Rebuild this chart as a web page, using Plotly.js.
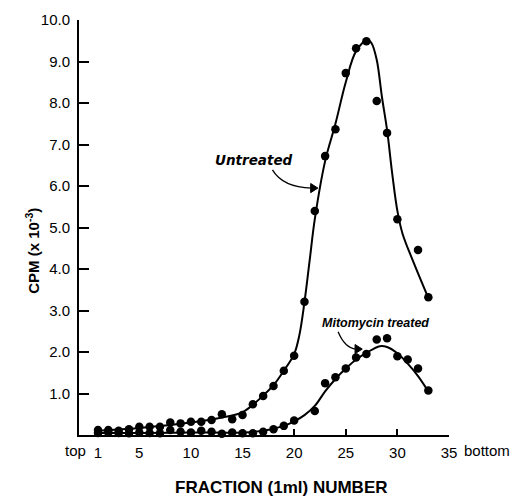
<!DOCTYPE html>
<html>
<head>
<meta charset="utf-8">
<script src="https://cdn.plot.ly/plotly-3.0.1.min.js"></script>
<style>html,body{margin:0;padding:0;background:#fff;}#chart{width:515px;height:497px;}</style>
</head>
<body>
<div id="chart"></div>
<script>
// Measured data points (fraction number, CPM x 10^-3)
const untreatedX = [1,2,3,4,5,6,7,8,9,10,11,12,13,14,15,16,17,18,19,20,21,22,23,24,25,26,27,28,29,30,32,33];
const untreatedY = [0.12,0.12,0.10,0.14,0.20,0.20,0.20,0.30,0.28,0.32,0.32,0.36,0.50,0.38,0.48,0.74,0.94,1.18,1.55,1.91,3.21,5.40,6.72,7.37,8.72,9.32,9.49,8.05,7.28,5.20,4.46,3.32];

const mitoX = [1,2,3,4,5,6,7,8,9,10,11,12,13,14,15,16,17,18,19,20,22,23,24,25,26,27,28,29,30,31,32,33];
const mitoY = [0.05,0.06,0.05,0.04,0.06,0.05,0.04,0.12,0.08,0.06,0.10,0.08,0.03,0.06,0.04,0.04,0.08,0.14,0.22,0.35,0.58,1.25,1.39,1.60,1.87,1.95,2.30,2.33,1.90,1.82,1.60,1.07];

// Hand-drawn fitted curves
const untreatedCurveX = [1,5,10,13,15,17,18,19,20,20.5,21,21.5,22,23,24,25,26,27.1,27.5,28,28.5,29,29.5,30,30.5,31.5,33];
const untreatedCurveY = [0.1,0.17,0.3,0.42,0.55,0.95,1.2,1.55,1.95,2.4,3.2,4.2,5.2,6.6,7.5,8.5,9.25,9.52,9.44,9.04,8.15,7.35,6.3,5.4,4.85,4.2,3.3];

const mitoCurveX = [1,5,10,15,17,19,20,21,22,23,24,25,26,27,28.3,29,30,31,32,33];
const mitoCurveY = [0.05,0.05,0.06,0.06,0.1,0.22,0.33,0.48,0.7,1.05,1.35,1.6,1.82,1.98,2.14,2.12,1.97,1.72,1.42,1.05];

const xTickVals = [1,5,10,15,20,25,30,35];
const xTickText = ['1','5','10','15','20','25','30','35'];
const yTickVals = [1,2,3,4,5,6,7,8,9,10];
const yTickText = ['1.0','2.0','3.0','4.0','5.0','6.0','7.0','8.0','9.0','10.0'];

const lineStyle = {color:'#000', width:2, shape:'spline', smoothing:1};
const markerStyle = {color:'#000', size:8.5, symbol:'circle'};

const traces = [
  {x:untreatedCurveX, y:untreatedCurveY, mode:'lines', line:lineStyle, hoverinfo:'skip', cliponaxis:false},
  {x:mitoCurveX, y:mitoCurveY, mode:'lines', line:lineStyle, hoverinfo:'skip', cliponaxis:false},
  {x:untreatedX, y:untreatedY, mode:'markers', marker:markerStyle, name:'Untreated', cliponaxis:false},
  {x:mitoX, y:mitoY, mode:'markers', marker:markerStyle, name:'Mitomycin treated', cliponaxis:false}
];

const tickFont = {family:'Liberation Sans, Arial, sans-serif', size:15, color:'#000'};

const layout = {
  width:515, height:497,
  margin:{l:79, r:66, t:20, b:62},
  paper_bgcolor:'#fff', plot_bgcolor:'#fff',
  showlegend:false,
  xaxis:{
    range:[-0.84,35], tickvals:xTickVals, ticktext:xTickText,
    ticks:'inside', ticklen:6, tickwidth:2, tickcolor:'#000',
    showline:true, linecolor:'#000', linewidth:2,
    showgrid:false, zeroline:false, tickfont:tickFont, ticklabelstandoff:3
  },
  yaxis:{
    range:[0,10], tickvals:yTickVals, ticktext:yTickText,
    ticks:'inside', ticklen:10, tickwidth:2, tickcolor:'#000',
    showline:true, linecolor:'#000', linewidth:2,
    showgrid:false, zeroline:false, tickfont:tickFont, ticklabelstandoff:4
  },
  shapes:[
    {type:'path', xref:'x', yref:'y', path:'M 17.9,6.39 Q 18.9,5.97 21.7,5.95', line:{color:'#000', width:1.3}},
    {type:'path', xref:'x', yref:'y', path:'M 22.3,5.95 L 21.6,6.06 L 21.6,5.84 Z', line:{color:'#000', width:1}, fillcolor:'#000'},
    {type:'path', xref:'x', yref:'y', path:'M 24.26,2.49 Q 24.9,2.10 26.0,2.07', line:{color:'#000', width:1.3}},
    {type:'path', xref:'x', yref:'y', path:'M 26.6,2.07 L 25.9,2.18 L 25.9,1.96 Z', line:{color:'#000', width:1}, fillcolor:'#000'}
  ],
  annotations:[
    {xref:'paper', yref:'paper', x:-0.157, y:0.445, text:'<b>CPM (x 10<sup>-3</sup>)</b>', textangle:-90,
     showarrow:false, font:{family:'Liberation Sans, Arial, sans-serif', size:15, color:'#000'}},
    {xref:'paper', yref:'paper', x:0.546, y:-0.127, yanchor:'middle', text:'<b>FRACTION (1ml) NUMBER</b>',
     showarrow:false, font:{family:'Liberation Sans, Arial, sans-serif', size:17, color:'#000'}},
    {xref:'x', yref:'paper', x:35, y:0, xanchor:'left', yanchor:'top', xshift:13, yshift:-5,
     text:'bottom', showarrow:false, font:tickFont},
    {xref:'x', yref:'paper', x:1, y:0, xanchor:'right', yanchor:'top', xshift:-10, yshift:-5,
     text:'top', showarrow:false, font:tickFont},
    {xref:'x', yref:'y', x:16.15, y:6.63, text:'<b><i>Untreated</i></b>', showarrow:false,
     font:{family:'DejaVu Sans, Verdana, sans-serif', size:13.5, color:'#000'}},
    {xref:'x', yref:'y', x:27.9, y:2.70, text:'<b><i>Mitomycin treated</i></b>', showarrow:false,
     font:{family:'Liberation Sans, Arial, sans-serif', size:12.5, color:'#000'}}
  ]
};

Plotly.newPlot('chart', traces, layout, {displayModeBar:false, staticPlot:true});
</script>
</body>
</html>
